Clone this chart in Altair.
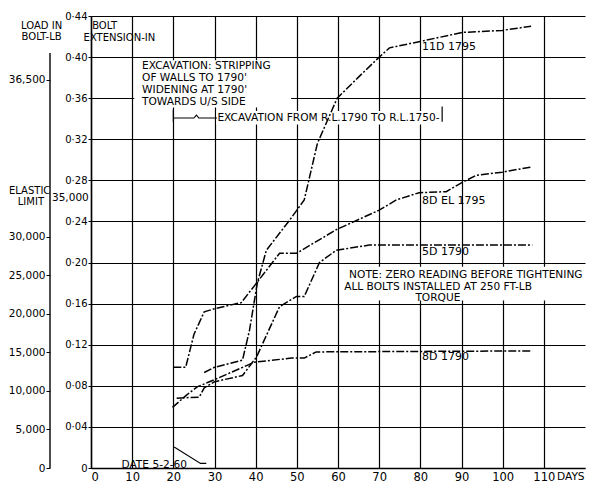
import altair as alt
import pandas as pd

FONT = "DejaVu Sans"

# ---- data series (days vs bolt extension in inches) ----
s11d_day = [27.5, 30.0, 36.8, 38.5, 40.4, 42.6, 48.2, 51.8, 55.0, 59.8, 65.1, 69.5, 72.5, 79.7, 90.2, 99.9, 106.9]
s11d_ext = [0.093, 0.098, 0.105, 0.134, 0.180, 0.212, 0.241, 0.261, 0.316, 0.360, 0.381, 0.398, 0.409, 0.415, 0.424, 0.426, 0.430]

s8del_day = [20.0, 23.0, 25.0, 27.5, 30.0, 36.5, 40.2, 45.8, 49.9, 59.6, 70.0, 74.2, 79.7, 86.3, 90.2, 93.6, 99.9, 106.9]
s8del_ext = [0.098, 0.098, 0.130, 0.152, 0.155, 0.161, 0.180, 0.209, 0.209, 0.232, 0.251, 0.261, 0.268, 0.269, 0.278, 0.285, 0.288, 0.293]

s5d_day = [20.8, 26.3, 27.5, 30.0, 36.8, 40.2, 45.8, 49.9, 51.8, 55.5, 59.6, 67.6, 107.2]
s5d_ext = [0.068, 0.069, 0.078, 0.084, 0.090, 0.108, 0.157, 0.167, 0.167, 0.200, 0.212, 0.217, 0.217]

s8d_day = [19.8, 23.2, 25.8, 30.0, 39.7, 48.7, 51.8, 54.7, 107.2]
s8d_ext = [0.059, 0.071, 0.079, 0.086, 0.103, 0.107, 0.107, 0.113, 0.114]

series_names = ["11D 1795", "8D EL 1795", "5D 1790", "8D 1790"]
series_days = [s11d_day, s8del_day, s5d_day, s8d_day]
series_exts = [s11d_ext, s8del_ext, s5d_ext, s8d_ext]

# ---- axis ticks ----
day_ticks = [0, 10, 20, 30, 40, 50, 60, 70, 80, 90, 100, 110]
ext_ticks = [0.0, 0.04, 0.08, 0.12, 0.16, 0.20, 0.24, 0.28, 0.32, 0.36, 0.40, 0.44]
lb_ticks = [0, 5000, 10000, 15000, 20000, 25000, 30000, 50300]
lb_elastic = [35000]
lb_elastic_label = ["35,000"]
lb_top = 58593
lb_line_top = 53800

# ---- annotations ----
note_text = ["EXCAVATION: STRIPPING", "OF WALLS TO 1790'", "WIDENING AT 1790'", "TOWARDS U/S SIDE",
             "EXCAVATION FROM R.L.1790 TO R.L.1750-",
             "NOTE: ZERO READING BEFORE TIGHTENING", "ALL BOLTS INSTALLED AT 250 FT-LB", "TORQUE",
             "DATE 5-2-60", "DAYS"]
note_day = [12.4, 12.4, 12.4, 12.4, 30.7, 62.7, 61.5, 78.8, 7.4, 113.2]
note_ext = [0.391, 0.380, 0.368, 0.356, 0.3407, 0.188, 0.176, 0.1655, 0.003, -0.0088]

label_day = [80.4, 80.4, 80.4, 80.4]
label_ext = [0.410, 0.260, 0.210, 0.108]

title_text = ["LOAD IN", "BOLT-LB", "BOLT", "EXTENSION-IN", "ELASTIC", "LIMIT"]
title_day = [-12.0, -12.0, 3.3, 6.9, -14.9, -14.6]
title_ext = [0.430, 0.4197, 0.430, 0.4187, 0.2697, 0.259]

box_x1 = [10.5, 30.4, 60.4]
box_x2 = [48.6, 84.6, 120.0]
box_y1 = [0.351, 0.3345, 0.163]
box_y2 = [0.397, 0.3475, 0.196]

guide_grp = ["b", "b", "b", "b", "b", "d", "d", "d"]
guide_day = [20.0, 25.0, 25.6, 26.2, 30.6, 20.2, 26.6, 28.0]
guide_ext = [0.3407, 0.3407, 0.3436, 0.3407, 0.3407, 0.0205, 0.0045, 0.0045]

tick_day = [20.0, 85.3]
tick_lo = [0.337, 0.337]
tick_hi = [0.349, 0.352]

# ---- build tables ----
rows = []
for name, ds, es in zip(series_names, series_days, series_exts):
    for i, (d, e) in enumerate(zip(ds, es)):
        rows.append({"series": name, "day": d, "ext": e, "idx": i})
df = pd.DataFrame(rows)

x_scale = alt.Scale(domain=[0, 120], nice=False, zero=False)
y_scale = alt.Scale(domain=[0, 0.44], nice=False, zero=False)

x_axis = alt.Axis(values=day_ticks, grid=True, ticks=False, title=None, labelFontSize=11.5,
                  labelPadding=3, domainColor="black", domainWidth=1.5, gridColor="black",
                  gridWidth=1.2, gridOpacity=1, labelColor="black", labelFont=FONT,
                  labelExpr="format(datum.value, 'd')")
y_axis = alt.Axis(values=ext_ticks, grid=True, tickSize=3, tickColor="black", title=None,
                  labelFontSize=10, labelPadding=1, domainColor="black", domainWidth=1.5,
                  gridColor="black", gridWidth=1.1, gridOpacity=1, labelColor="black",
                  labelFont=FONT,
                  labelExpr="datum.value == 0 ? '0' : replace(format(datum.value, '.2f'), '.', '·')")


def X(field):
    return alt.X(field, scale=x_scale, axis=x_axis)


def Y(field):
    return alt.Y(field, scale=y_scale, axis=y_axis)


lines = alt.Chart(df).mark_line(color="black", strokeWidth=1.5, strokeDash=[8, 2, 2, 2]).encode(
    x=X("day:Q"), y=Y("ext:Q"), detail="series:N", order="idx:Q")

boxes = alt.Chart(pd.DataFrame({"day": box_x1, "x2": box_x2, "ext": box_y1, "y2": box_y2})).mark_rect(
    color="white").encode(x=X("day:Q"), x2="x2:Q", y=Y("ext:Q"), y2="y2:Q")

guides = alt.Chart(pd.DataFrame({"grp": guide_grp, "day": guide_day, "ext": guide_ext,
                                 "i": list(range(len(guide_day)))})).mark_line(
    color="black", strokeWidth=1.1).encode(x=X("day:Q"), y=Y("ext:Q"), detail="grp:N", order="i:Q")

ticks = alt.Chart(pd.DataFrame({"day": tick_day, "ext": tick_lo, "hi": tick_hi})).mark_rule(
    color="black", strokeWidth=1.2).encode(x=X("day:Q"), y=Y("ext:Q"), y2="hi:Q")

notes = alt.Chart(pd.DataFrame({"t": note_text, "day": note_day, "ext": note_ext})).mark_text(
    align="left", baseline="middle", font=FONT, fontSize=10.6, color="black").encode(
    x=X("day:Q"), y=Y("ext:Q"), text="t:N")

labels = alt.Chart(pd.DataFrame({"t": series_names, "day": label_day, "ext": label_ext})).mark_text(
    align="left", baseline="middle", font=FONT, fontSize=11, color="black").encode(
    x=X("day:Q"), y=Y("ext:Q"), text="t:N")

titles = alt.Chart(pd.DataFrame({"t": title_text, "day": title_day, "ext": title_ext})).mark_text(
    align="center", baseline="middle", font=FONT, fontSize=10, color="black").encode(
    x=X("day:Q"), y=Y("ext:Q"), text="t:N")

inner = alt.layer(boxes, ticks, notes, labels, titles, guides, lines)

lb_scale = alt.Scale(domain=[0, lb_top], nice=False, zero=False)
lb_axis = alt.Axis(orient="left", offset=41, values=lb_ticks, domain=False, grid=False, tickSize=4,
                   tickColor="black", title=None, labelFontSize=10.5, labelPadding=1,
                   labelColor="black", labelFont=FONT,
                   labelExpr="datum.value > 40000 ? '36,500' : format(datum.value, ',')")
lb_rule = alt.Chart(pd.DataFrame({"lb": [0], "hi": [lb_line_top]})).mark_rule(
    color="black", strokeWidth=1.4).encode(
    x=alt.value(-41),
    y=alt.Y("lb:Q", scale=lb_scale, axis=lb_axis),
    y2="hi:Q")
lb_text = alt.Chart(pd.DataFrame({"lb": lb_elastic, "t": lb_elastic_label})).mark_text(
    align="left", baseline="middle", font=FONT, fontSize=10.5, color="black").encode(
    x=alt.value(-39),
    y=alt.Y("lb:Q", scale=lb_scale, axis=lb_axis),
    text="t:N")
lb = alt.layer(lb_rule, lb_text)

chart = alt.layer(inner, lb).resolve_scale(y="independent").properties(
    width=494, height=452,
    padding={"left": 83, "top": 8, "right": 6, "bottom": 14},
    autosize=alt.AutoSizeParams(type="none"),
    background="white",
).configure_view(strokeWidth=0)

chart.save("out.html", embed_options={"renderer": "svg", "actions": False})
